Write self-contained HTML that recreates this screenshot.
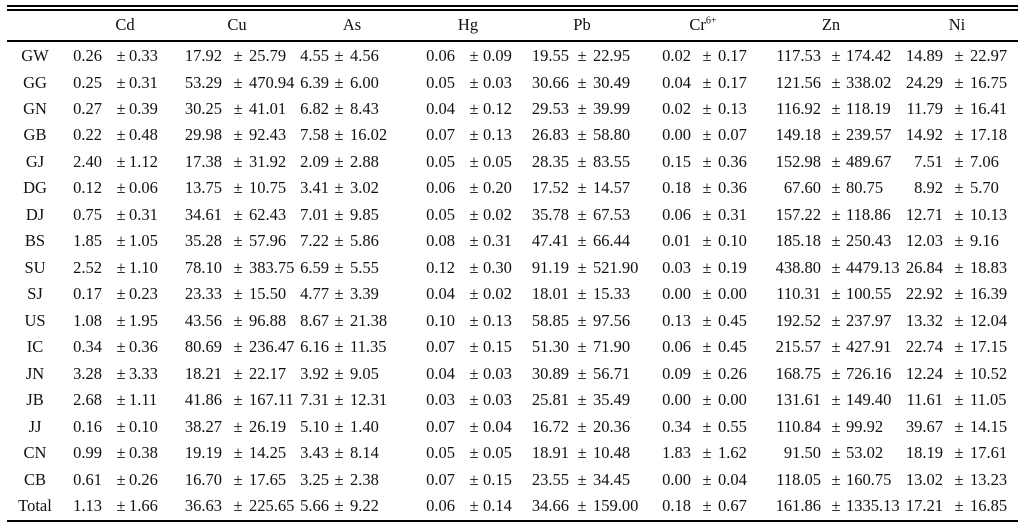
<!DOCTYPE html>
<html><head><meta charset="utf-8"><style>
body{margin:0;background:#fff;width:1025px;height:528px;overflow:hidden;position:relative;font-family:"Liberation Serif","Times New Roman",serif;font-size:16.5px;color:#111}
.ln{position:absolute;left:7px;width:1011px;background:#000}
.r{position:absolute;left:0;width:1025px;height:26px;line-height:26px}
.n{position:absolute;left:35px;width:60px;margin-left:-30px;text-align:center}
.v{position:absolute;width:20px;margin-left:-10px;text-align:center}
.v l{position:absolute;right:calc(100% + var(--a));white-space:nowrap}
.v r{position:absolute;left:calc(100% + var(--b));white-space:nowrap}
.h{position:absolute;width:60px;margin-left:-30px;text-align:center}
.c1{left:121px;--a:9px;--b:-2px}.c2{left:238px;--a:6px;--b:1px}.c3{left:339px;--a:0px;--b:1px}.c4{left:474px;--a:9px;--b:-1px}.c5{left:582px;--a:3px;--b:1px}.c6{left:707px;--a:6px;--b:1px}.c7{left:836px;--a:5px;--b:0px}.c8{left:959px;--a:6px;--b:1px}
sup{font-size:10px;line-height:0}
</style></head><body>
<div class="ln" style="top:5px;height:2px"></div>
<div class="ln" style="top:9px;height:2px"></div>
<div class="ln" style="top:40px;height:2px"></div>
<div class="ln" style="top:520px;height:2px"></div>
<div class="r" style="top:12px"><span class="h" style="left:125px">Cd</span><span class="h" style="left:237px">Cu</span><span class="h" style="left:352px">As</span><span class="h" style="left:468px">Hg</span><span class="h" style="left:582px">Pb</span><span class="h" style="left:703px">Cr<sup>6+</sup></span><span class="h" style="left:831px">Zn</span><span class="h" style="left:957px">Ni</span></div>
<div class="r" style="top:43px"><span class="n">GW</span><span class="v c1"><l>0.26</l>±<r>0.33</r></span><span class="v c2"><l>17.92</l>±<r>25.79</r></span><span class="v c3"><l>4.55</l>±<r>4.56</r></span><span class="v c4"><l>0.06</l>±<r>0.09</r></span><span class="v c5"><l>19.55</l>±<r>22.95</r></span><span class="v c6"><l>0.02</l>±<r>0.17</r></span><span class="v c7"><l>117.53</l>±<r>174.42</r></span><span class="v c8"><l>14.89</l>±<r>22.97</r></span></div>
<div class="r" style="top:69.5px"><span class="n">GG</span><span class="v c1"><l>0.25</l>±<r>0.31</r></span><span class="v c2"><l>53.29</l>±<r>470.94</r></span><span class="v c3"><l>6.39</l>±<r>6.00</r></span><span class="v c4"><l>0.05</l>±<r>0.03</r></span><span class="v c5"><l>30.66</l>±<r>30.49</r></span><span class="v c6"><l>0.04</l>±<r>0.17</r></span><span class="v c7"><l>121.56</l>±<r>338.02</r></span><span class="v c8"><l>24.29</l>±<r>16.75</r></span></div>
<div class="r" style="top:96px"><span class="n">GN</span><span class="v c1"><l>0.27</l>±<r>0.39</r></span><span class="v c2"><l>30.25</l>±<r>41.01</r></span><span class="v c3"><l>6.82</l>±<r>8.43</r></span><span class="v c4"><l>0.04</l>±<r>0.12</r></span><span class="v c5"><l>29.53</l>±<r>39.99</r></span><span class="v c6"><l>0.02</l>±<r>0.13</r></span><span class="v c7"><l>116.92</l>±<r>118.19</r></span><span class="v c8"><l>11.79</l>±<r>16.41</r></span></div>
<div class="r" style="top:122.4px"><span class="n">GB</span><span class="v c1"><l>0.22</l>±<r>0.48</r></span><span class="v c2"><l>29.98</l>±<r>92.43</r></span><span class="v c3"><l>7.58</l>±<r>16.02</r></span><span class="v c4"><l>0.07</l>±<r>0.13</r></span><span class="v c5"><l>26.83</l>±<r>58.80</r></span><span class="v c6"><l>0.00</l>±<r>0.07</r></span><span class="v c7"><l>149.18</l>±<r>239.57</r></span><span class="v c8"><l>14.92</l>±<r>17.18</r></span></div>
<div class="r" style="top:148.9px"><span class="n">GJ</span><span class="v c1"><l>2.40</l>±<r>1.12</r></span><span class="v c2"><l>17.38</l>±<r>31.92</r></span><span class="v c3"><l>2.09</l>±<r>2.88</r></span><span class="v c4"><l>0.05</l>±<r>0.05</r></span><span class="v c5"><l>28.35</l>±<r>83.55</r></span><span class="v c6"><l>0.15</l>±<r>0.36</r></span><span class="v c7"><l>152.98</l>±<r>489.67</r></span><span class="v c8"><l>7.51</l>±<r>7.06</r></span></div>
<div class="r" style="top:175.4px"><span class="n">DG</span><span class="v c1"><l>0.12</l>±<r>0.06</r></span><span class="v c2"><l>13.75</l>±<r>10.75</r></span><span class="v c3"><l>3.41</l>±<r>3.02</r></span><span class="v c4"><l>0.06</l>±<r>0.20</r></span><span class="v c5"><l>17.52</l>±<r>14.57</r></span><span class="v c6"><l>0.18</l>±<r>0.36</r></span><span class="v c7"><l>67.60</l>±<r>80.75</r></span><span class="v c8"><l>8.92</l>±<r>5.70</r></span></div>
<div class="r" style="top:201.8px"><span class="n">DJ</span><span class="v c1"><l>0.75</l>±<r>0.31</r></span><span class="v c2"><l>34.61</l>±<r>62.43</r></span><span class="v c3"><l>7.01</l>±<r>9.85</r></span><span class="v c4"><l>0.05</l>±<r>0.02</r></span><span class="v c5"><l>35.78</l>±<r>67.53</r></span><span class="v c6"><l>0.06</l>±<r>0.31</r></span><span class="v c7"><l>157.22</l>±<r>118.86</r></span><span class="v c8"><l>12.71</l>±<r>10.13</r></span></div>
<div class="r" style="top:228.3px"><span class="n">BS</span><span class="v c1"><l>1.85</l>±<r>1.05</r></span><span class="v c2"><l>35.28</l>±<r>57.96</r></span><span class="v c3"><l>7.22</l>±<r>5.86</r></span><span class="v c4"><l>0.08</l>±<r>0.31</r></span><span class="v c5"><l>47.41</l>±<r>66.44</r></span><span class="v c6"><l>0.01</l>±<r>0.10</r></span><span class="v c7"><l>185.18</l>±<r>250.43</r></span><span class="v c8"><l>12.03</l>±<r>9.16</r></span></div>
<div class="r" style="top:254.8px"><span class="n">SU</span><span class="v c1"><l>2.52</l>±<r>1.10</r></span><span class="v c2"><l>78.10</l>±<r>383.75</r></span><span class="v c3"><l>6.59</l>±<r>5.55</r></span><span class="v c4"><l>0.12</l>±<r>0.30</r></span><span class="v c5"><l>91.19</l>±<r>521.90</r></span><span class="v c6"><l>0.03</l>±<r>0.19</r></span><span class="v c7"><l>438.80</l>±<r>4479.13</r></span><span class="v c8"><l>26.84</l>±<r>18.83</r></span></div>
<div class="r" style="top:281.2px"><span class="n">SJ</span><span class="v c1"><l>0.17</l>±<r>0.23</r></span><span class="v c2"><l>23.33</l>±<r>15.50</r></span><span class="v c3"><l>4.77</l>±<r>3.39</r></span><span class="v c4"><l>0.04</l>±<r>0.02</r></span><span class="v c5"><l>18.01</l>±<r>15.33</r></span><span class="v c6"><l>0.00</l>±<r>0.00</r></span><span class="v c7"><l>110.31</l>±<r>100.55</r></span><span class="v c8"><l>22.92</l>±<r>16.39</r></span></div>
<div class="r" style="top:307.7px"><span class="n">US</span><span class="v c1"><l>1.08</l>±<r>1.95</r></span><span class="v c2"><l>43.56</l>±<r>96.88</r></span><span class="v c3"><l>8.67</l>±<r>21.38</r></span><span class="v c4"><l>0.10</l>±<r>0.13</r></span><span class="v c5"><l>58.85</l>±<r>97.56</r></span><span class="v c6"><l>0.13</l>±<r>0.45</r></span><span class="v c7"><l>192.52</l>±<r>237.97</r></span><span class="v c8"><l>13.32</l>±<r>12.04</r></span></div>
<div class="r" style="top:334.2px"><span class="n">IC</span><span class="v c1"><l>0.34</l>±<r>0.36</r></span><span class="v c2"><l>80.69</l>±<r>236.47</r></span><span class="v c3"><l>6.16</l>±<r>11.35</r></span><span class="v c4"><l>0.07</l>±<r>0.15</r></span><span class="v c5"><l>51.30</l>±<r>71.90</r></span><span class="v c6"><l>0.06</l>±<r>0.45</r></span><span class="v c7"><l>215.57</l>±<r>427.91</r></span><span class="v c8"><l>22.74</l>±<r>17.15</r></span></div>
<div class="r" style="top:360.6px"><span class="n">JN</span><span class="v c1"><l>3.28</l>±<r>3.33</r></span><span class="v c2"><l>18.21</l>±<r>22.17</r></span><span class="v c3"><l>3.92</l>±<r>9.05</r></span><span class="v c4"><l>0.04</l>±<r>0.03</r></span><span class="v c5"><l>30.89</l>±<r>56.71</r></span><span class="v c6"><l>0.09</l>±<r>0.26</r></span><span class="v c7"><l>168.75</l>±<r>726.16</r></span><span class="v c8"><l>12.24</l>±<r>10.52</r></span></div>
<div class="r" style="top:387.1px"><span class="n">JB</span><span class="v c1"><l>2.68</l>±<r>1.11</r></span><span class="v c2"><l>41.86</l>±<r>167.11</r></span><span class="v c3"><l>7.31</l>±<r>12.31</r></span><span class="v c4"><l>0.03</l>±<r>0.03</r></span><span class="v c5"><l>25.81</l>±<r>35.49</r></span><span class="v c6"><l>0.00</l>±<r>0.00</r></span><span class="v c7"><l>131.61</l>±<r>149.40</r></span><span class="v c8"><l>11.61</l>±<r>11.05</r></span></div>
<div class="r" style="top:413.6px"><span class="n">JJ</span><span class="v c1"><l>0.16</l>±<r>0.10</r></span><span class="v c2"><l>38.27</l>±<r>26.19</r></span><span class="v c3"><l>5.10</l>±<r>1.40</r></span><span class="v c4"><l>0.07</l>±<r>0.04</r></span><span class="v c5"><l>16.72</l>±<r>20.36</r></span><span class="v c6"><l>0.34</l>±<r>0.55</r></span><span class="v c7"><l>110.84</l>±<r>99.92</r></span><span class="v c8"><l>39.67</l>±<r>14.15</r></span></div>
<div class="r" style="top:440px"><span class="n">CN</span><span class="v c1"><l>0.99</l>±<r>0.38</r></span><span class="v c2"><l>19.19</l>±<r>14.25</r></span><span class="v c3"><l>3.43</l>±<r>8.14</r></span><span class="v c4"><l>0.05</l>±<r>0.05</r></span><span class="v c5"><l>18.91</l>±<r>10.48</r></span><span class="v c6"><l>1.83</l>±<r>1.62</r></span><span class="v c7"><l>91.50</l>±<r>53.02</r></span><span class="v c8"><l>18.19</l>±<r>17.61</r></span></div>
<div class="r" style="top:466.5px"><span class="n">CB</span><span class="v c1"><l>0.61</l>±<r>0.26</r></span><span class="v c2"><l>16.70</l>±<r>17.65</r></span><span class="v c3"><l>3.25</l>±<r>2.38</r></span><span class="v c4"><l>0.07</l>±<r>0.15</r></span><span class="v c5"><l>23.55</l>±<r>34.45</r></span><span class="v c6"><l>0.00</l>±<r>0.04</r></span><span class="v c7"><l>118.05</l>±<r>160.75</r></span><span class="v c8"><l>13.02</l>±<r>13.23</r></span></div>
<div class="r" style="top:493px"><span class="n">Total</span><span class="v c1"><l>1.13</l>±<r>1.66</r></span><span class="v c2"><l>36.63</l>±<r>225.65</r></span><span class="v c3"><l>5.66</l>±<r>9.22</r></span><span class="v c4"><l>0.06</l>±<r>0.14</r></span><span class="v c5"><l>34.66</l>±<r>159.00</r></span><span class="v c6"><l>0.18</l>±<r>0.67</r></span><span class="v c7"><l>161.86</l>±<r>1335.13</r></span><span class="v c8"><l>17.21</l>±<r>16.85</r></span></div>
</body></html>
